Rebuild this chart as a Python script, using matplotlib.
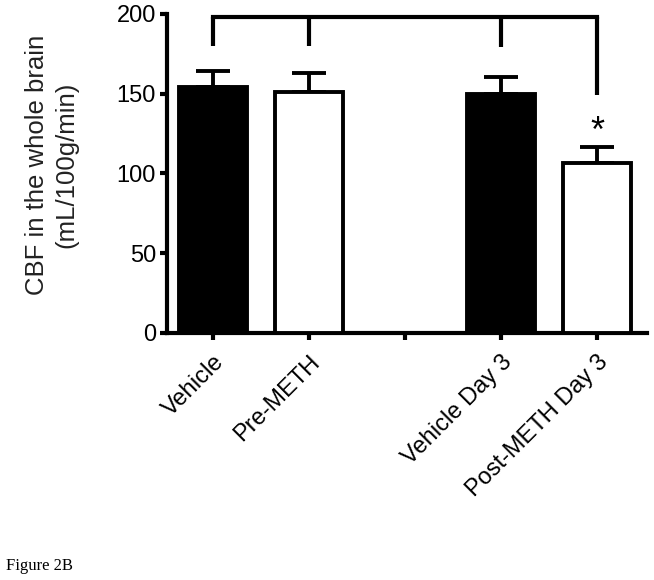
import matplotlib
matplotlib.use("Agg")
import matplotlib.pyplot as plt
from matplotlib.transforms import ScaledTranslation

plt.rcParams['font.family'] = ['Liberation Sans', 'DejaVu Sans']

# data
labels = ["Vehicle", "Pre-METH", "", "Vehicle Day 3", "Post-METH Day 3"]
xpos = [0, 1, 3, 4]
means = [154, 151, 150, 106.5]
sem = [10, 12, 10.5, 10]
colors = ["black", "white", "black", "white"]

# bracket over the bars
br_top = 198
br_ends = [180, 180, 179, 149]
star_y = 126

fig = plt.figure(figsize=(6.54, 5.80), dpi=100)
ax = fig.add_axes([0.2554, 0.4259, 0.7336, 0.5500])

ax.bar(xpos, means, width=0.71, color=colors, edgecolor="black", linewidth=2.8, zorder=3)
ax.errorbar(xpos, means, yerr=[[0] * len(sem), sem], fmt="none", ecolor="black",
            elinewidth=2.8, capsize=12, capthick=2.8, zorder=2)

# significance bracket
ax.plot([xpos[0], xpos[-1]], [br_top, br_top], color="black", lw=3, clip_on=False,
        solid_capstyle="projecting")
for x, y in zip(xpos, br_ends):
    ax.plot([x, x], [br_top, y], color="black", lw=3, clip_on=False, solid_capstyle="butt")
ax.text(xpos[-1], star_y, "*", ha="center", va="center", fontsize=26)

ax.set_xlim(-0.48, 4.52)
ax.set_ylim(0, 200)
ax.set_yticks([0, 50, 100, 150, 200])
ax.set_xticks(range(len(labels)))
ax.set_xticklabels(labels, rotation=45, ha="right", rotation_mode="anchor")
# nudge rotated labels a little to the left
shift = ScaledTranslation(-0.04, 0, fig.dpi_scale_trans)
for lab in ax.get_xticklabels():
    lab.set_transform(lab.get_transform() + shift)

for s in ["top", "right"]:
    ax.spines[s].set_visible(False)
for s in ["left", "bottom"]:
    ax.spines[s].set_linewidth(3)
ax.tick_params(axis="both", width=3, length=5, labelsize=17, pad=3)
ax.tick_params(axis="x", pad=8)

ax.set_ylabel("CBF in the whole brain\n(mL/100g/min)", fontsize=18.5, color="#222222",
              linespacing=1.3)
ax.yaxis.set_label_coords(-0.185, 0.527)

fig.text(0.009, 0.018, "Figure 2B", family="Liberation Serif", fontsize=12)

fig.savefig("out.png", dpi=100)
